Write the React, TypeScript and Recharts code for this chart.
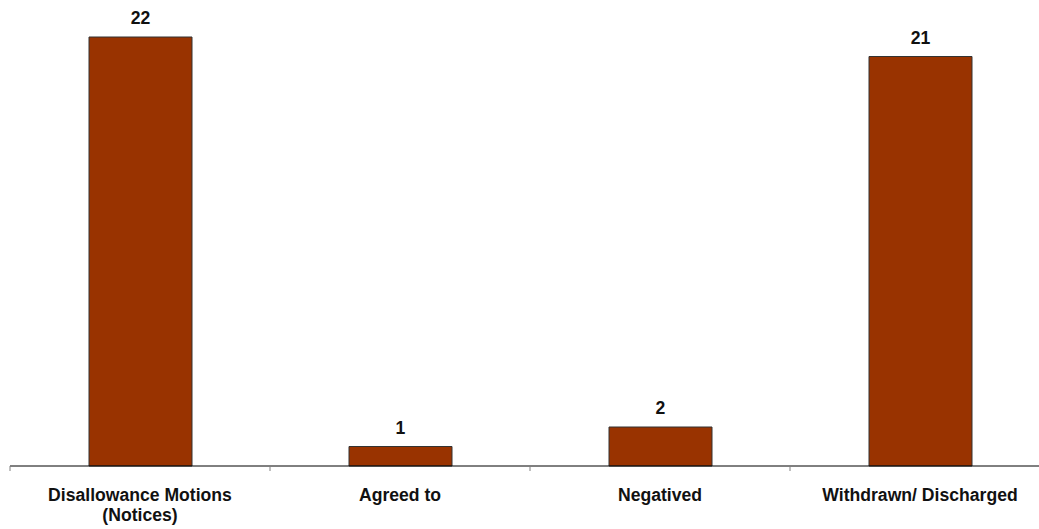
import { BarChart, Bar, XAxis, YAxis, LabelList } from 'recharts';

const categories = ['Disallowance Motions\n(Notices)', 'Agreed to', 'Negatived', 'Withdrawn/ Discharged'];
const counts = [22, 1, 2, 21];

const data = categories.map((name, i) => ({ name, count: counts[i] }));

const font = '"Liberation Sans", Arial, sans-serif';

// ticks sit between the categories in the original, so draw them at the band edges
function CategoryTick(props: any) {
  const { x, y, payload, index } = props;
  const half = payload.offset ?? 130;
  const lines = String(payload.value).split('\n');
  return (
    <g>
      <line x1={x - half} x2={x - half} y1={y} y2={y + 5} stroke="#808080" />
      {index === categories.length - 1 && (
        <line x1={x + half} x2={x + half} y1={y} y2={y + 5} stroke="#808080" />
      )}
      <text x={x} y={y} textAnchor="middle" fontFamily={font} fontSize={17.6} fontWeight="bold" fill="#111">
        {lines.map((l, i) => (
          <tspan key={i} x={x} dy={i === 0 ? 35 : 20}>{l}</tspan>
        ))}
      </text>
    </g>
  );
}

export default function App() {
  return (
    <div style={{ position: 'fixed', left: 0, top: 0, width: 1039, height: 529, overflow: 'hidden', background: '#fff' }}>
      <BarChart width={1060} height={529} data={data} margin={{ top: 37, right: 10, bottom: 0, left: 10 }} barCategoryGap={0}>
        <XAxis
          dataKey="name"
          height={63}
          axisLine={{ stroke: '#000' }}
          tickLine={false}
          tickSize={0}
          tickMargin={0}
          tick={<CategoryTick />}
          interval={0}
        />
        <YAxis hide domain={[0, 22]} />
        <Bar dataKey="count" fill="#993300" stroke="#333" strokeWidth={1} barSize={103} isAnimationActive={false}>
          <LabelList dataKey="count" position="top" offset={13} style={{ fontFamily: font, fontSize: 17.6, fontWeight: 'bold', fill: '#111' }} />
        </Bar>
      </BarChart>
    </div>
  );
}
